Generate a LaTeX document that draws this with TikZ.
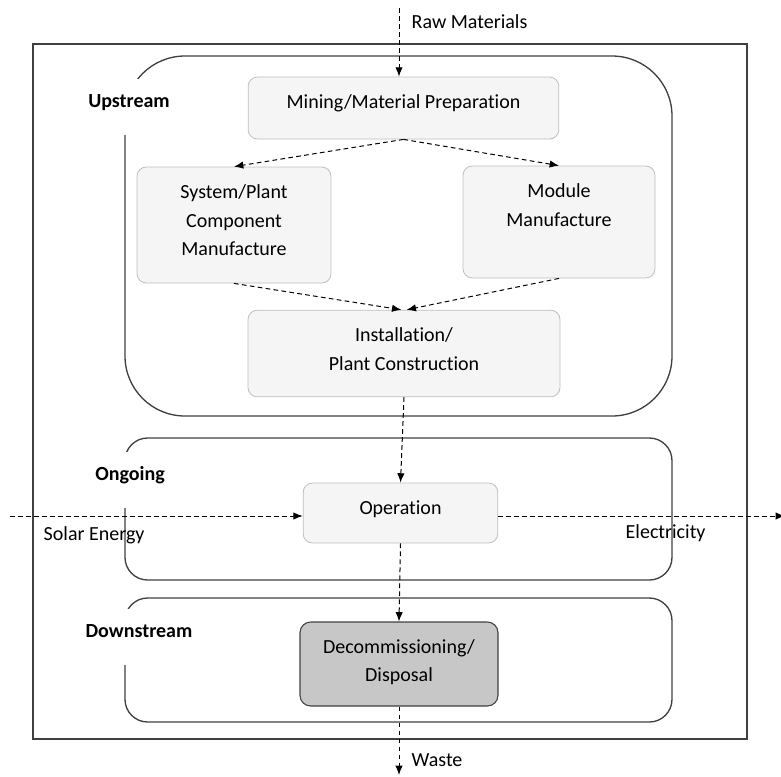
\documentclass[tikz,border=0pt]{standalone}
\usepackage{fontspec}
\setmainfont{Carlito}[Ligatures=CommonOff]
\usetikzlibrary{arrows.meta}

\begin{document}
\begin{tikzpicture}[x=0.75pt, y=-0.75pt,
  font=\fontsize{15}{21.4}\selectfont,
  stage/.style ={draw=black!25, fill=black!4, rounded corners=7pt, line width=0.6pt},
  final/.style ={draw=black!75, fill=black!22, rounded corners=8pt, line width=0.8pt},
  boxtext/.style ={anchor=north, align=center, yshift=-10pt},
  phase/.style ={fill=white, font=\fontsize{15}{21.4}\selectfont\bfseries, text height=10pt, text depth=10pt, minimum height=42pt, inner xsep=2pt},
  region/.style ={draw=black!75, line width=1pt},
  flow/.style ={dash pattern=on 3.5pt off 2.5pt, line width=0.75pt, -{Latex[length=7pt,width=5.5pt]}}]
 \useasboundingbox (0,0) rectangle (781,776);
 % frame and life cycle phases
 \draw[draw=black!75, line width=1.1pt] (33,44) rectangle (747,739);
 \draw[region, rounded corners=45pt] (125,56) rectangle (672,416);
 \draw[region, rounded corners=17pt] (125,438) rectangle (672,580);
 \draw[region, rounded corners=17pt] (125,598) rectangle (672,722);
 \node[phase] (up) at (129,107) {Upstream};
 \node[phase] (on) at (130,480) {Ongoing};
 \node[phase] (down) at (139,637) {Downstream};
 % process steps
 \node[stage, minimum width=233pt, minimum height=46.5pt, label={[boxtext]north:Mining/Material Preparation}] (mining) at (403.5,108) {};
 \node[stage, minimum width=145.5pt, minimum height=87pt, label={[boxtext]north:System/Plant\\Component\\Manufacture}] (system) at (234,225) {};
 \node[stage, minimum width=144pt, minimum height=84pt, label={[boxtext]north:Module\\Manufacture}] (module) at (559,222) {};
 \node[stage, minimum width=234pt, minimum height=65pt, label={[boxtext]north:Installation/\\Plant Construction}] (inst) at (404,353.5) {};
 \node[stage, minimum width=146pt, minimum height=45pt, label={[boxtext]north:Operation}] (op) at (400.5,513) {};
 \node[final, minimum width=148.5pt, minimum height=63pt, label={[boxtext]north:Decommissioning/\\Disposal}] (decom) at (399,664) {};
 % inputs and outputs
 \coordinate (rawin) at (399,8);
 \coordinate (wasteout) at (399,775);
 \coordinate (sunin) at (10,516);
 \coordinate (powerout) at (785,516);
 \node[anchor=west] (raw) at (407,22) {Raw Materials};
 \node[anchor=west] (waste) at (407,760) {Waste};
 \node[anchor=west] (sun) at (39,535) {Solar Energy};
 \node[anchor=west] (power) at (621,533) {Electricity};
 \draw[flow] (rawin) -- (rawin |- mining.north);
 \draw[flow] (mining.south) -- (system.north);
 \draw[flow] (mining.south) -- (module.north);
 \draw[flow] (system.south) -- ([xshift=-2pt]inst.north);
 \draw[flow] (module.south) -- ([xshift=2pt]inst.north);
 \draw[flow] (inst.south) -- (op.north);
 \draw[flow] (sunin) -- (sunin -| op.west);
 \draw[flow] (op.east |- powerout) -- (powerout);
 \draw[flow] (op.south) -- (decom.north);
 \draw[flow] (decom.south) -- (wasteout);
\end{tikzpicture}
\end{document}
